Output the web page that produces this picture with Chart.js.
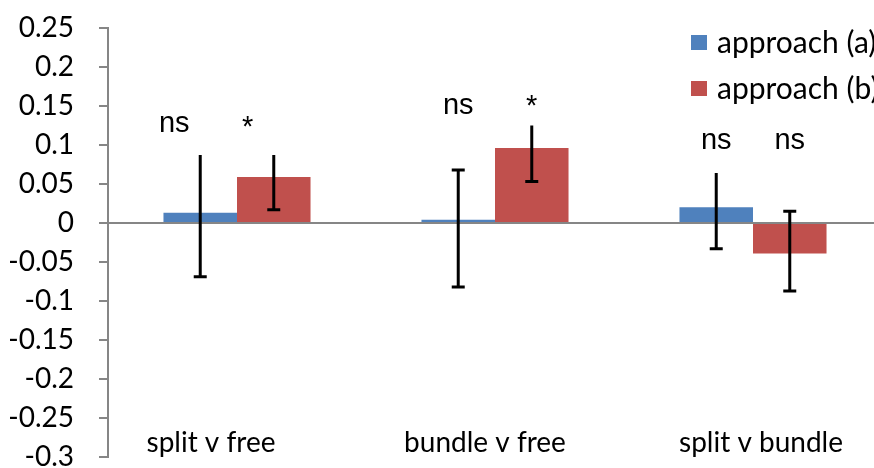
<!DOCTYPE html>
<html>
<head>
<meta charset="utf-8">
<script src="https://cdn.jsdelivr.net/npm/chart.js@4"></script>
<style>
  html, body { margin: 0; padding: 0; background: #fff; overflow: hidden; }
  #wrap { width: 890px; height: 513px; position: relative; top: -14px; }
</style>
</head>
<body>
<div id="wrap"><canvas id="chart"></canvas></div>
<script>
const categories = ["split v free", "bundle v free", "split v bundle"];
const seriesLabels = ["approach (a)", "approach (b)"];
const approachA = [0.013, 0.004, 0.020];
const approachB = [0.059, 0.096, -0.039];
// error bar ends (upper / lower)
const upperA = [0.087, 0.068, 0.064];
const lowerA = [-0.069, -0.082, -0.033];
const upperB = [0.087, 0.125, 0.015];
const lowerB = [0.017, 0.053, -0.087];
const signifA = ["ns", "ns", "ns"];
const signifB = ["*", "*", "ns"];
const yTickValues = [0.25, 0.2, 0.15, 0.1, 0.05, 0, -0.05, -0.1, -0.15, -0.2, -0.25, -0.3];

const BLUE = "#4F81BD";
const RED = "#C0504D";
const GREY = "#868686";
const CAL = "Lato, 'Open Sans', sans-serif";
const SHIFT = 14; // canvas is moved up by this much

// where the annotation text sits (baseline, in axis units) and small shifts
const signifY = [[0.116, 0.139, 0.095], [0.112, 0.138, 0.095]];
const signifShift = [-26, 0, 0];
const catShift = [-26, -10, 8];
const noTopCap = [[0, 2], [0, 1]];

const errorBars = {
  id: "errorBars",
  afterDraw(chart) {
    const ctx = chart.ctx;
    const y = chart.scales.y;
    const ends = [[upperA, lowerA], [upperB, lowerB]];
    chart.data.datasets.forEach((ds, d) => {
      chart.getDatasetMeta(d).data.forEach((bar, i) => {
        const top = y.getPixelForValue(ends[d][0][i]);
        const bot = y.getPixelForValue(ends[d][1][i]);
        ctx.save();
        ctx.strokeStyle = "#000";
        ctx.lineWidth = 3;
        ctx.beginPath();
        ctx.moveTo(bar.x, top);
        ctx.lineTo(bar.x, bot);
        ctx.moveTo(bar.x - 6.5, bot);
        ctx.lineTo(bar.x + 6.5, bot);
        if (!noTopCap[d].includes(i)) {
          ctx.moveTo(bar.x - 6.5, top);
          ctx.lineTo(bar.x + 6.5, top);
        }
        ctx.stroke();
        ctx.restore();
      });
    });
  }
};

const textBits = {
  id: "textBits",
  afterDraw(chart) {
    const ctx = chart.ctx;
    const x = chart.scales.x;
    const y = chart.scales.y;
    ctx.save();
    ctx.fillStyle = "#000";

    // significance marks
    ctx.font = "29px 'Liberation Sans', Arial, sans-serif";
    ctx.textAlign = "center";
    ctx.textBaseline = "alphabetic";
    [signifA, signifB].forEach((marks, d) => {
      const meta = chart.getDatasetMeta(d);
      marks.forEach((m, i) => {
        ctx.fillText(m, meta.data[i].x + signifShift[i], y.getPixelForValue(signifY[d][i]));
      });
    });

    // category names near the bottom of the plot
    ctx.font = "28px " + CAL;
    categories.forEach((c, i) => {
      ctx.fillText(c, x.getPixelForValue(i) + catShift[i], y.getPixelForValue(-0.293));
    });

    // legend
    ctx.textAlign = "left";
    ctx.font = "30px " + CAL;
    [BLUE, RED].forEach((col, d) => {
      const top = 35 + SHIFT + d * 46;
      ctx.fillStyle = col;
      ctx.fillRect(691, top, 16, 15);
      ctx.fillStyle = "#000";
      ctx.fillText(seriesLabels[d], 717, top + 18);
    });
    ctx.restore();
  }
};

new Chart(document.getElementById("chart"), {
  type: "bar",
  data: {
    labels: categories,
    datasets: [
      { label: seriesLabels[0], data: approachA, backgroundColor: BLUE },
      { label: seriesLabels[1], data: approachB, backgroundColor: RED }
    ]
  },
  options: {
    responsive: true,
    maintainAspectRatio: false,
    animation: false,
    layout: { padding: { top: 10, bottom: 10, left: 0, right: 8 } },
    datasets: { bar: { categoryPercentage: 0.57, barPercentage: 1.0 } },
    plugins: { legend: { display: false }, tooltip: { enabled: false } },
    scales: {
      x: {
        position: { y: 0 },
        z: 1,
        ticks: { display: false },
        grid: { display: true, drawOnChartArea: false, drawTicks: false },
        border: { display: true, color: GREY, width: 2 }
      },
      y: {
        min: -0.3,
        max: 0.25,
        afterBuildTicks(scale) {
          scale.ticks = yTickValues.map(v => ({ value: v }));
        },
        afterFit(scale) { scale.width = 108; },
        ticks: {
          padding: 25,
          color: "#000",
          font: { family: CAL, size: 28 },
          callback: v => String(Math.round(v * 100) / 100)
        },
        grid: { drawOnChartArea: false, drawTicks: true, tickLength: 9, color: GREY, lineWidth: 2 },
        border: { display: true, color: GREY, width: 2 }
      }
    }
  },
  plugins: [errorBars, textBits]
});
</script>
</body>
</html>
